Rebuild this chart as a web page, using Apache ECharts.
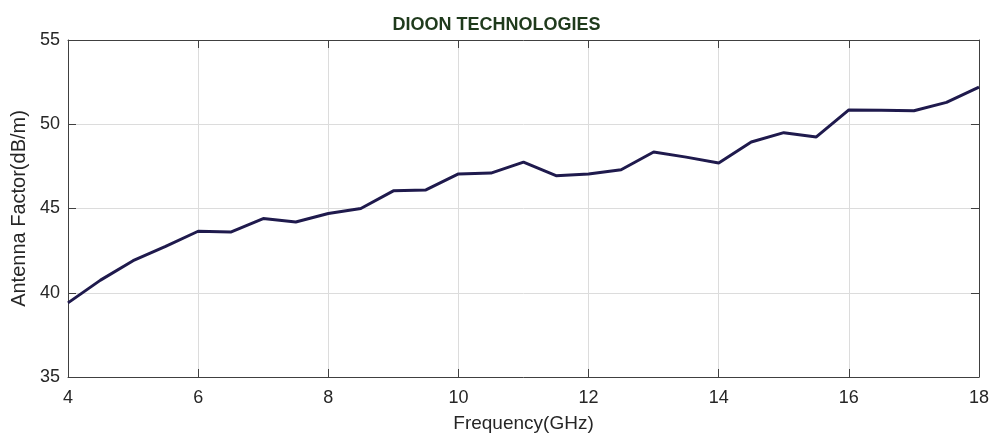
<!DOCTYPE html>
<html><head><meta charset="utf-8">
<script src="https://cdn.jsdelivr.net/npm/echarts@6/dist/echarts.min.js"></script>
<style>html,body{margin:0;padding:0;background:#fff}#c{width:993px;height:441px}</style>
</head><body><div id="c"></div>
<script>
var freq = [4,4.5,5,5.5,6,6.5,7,7.5,8,8.5,9,9.5,10,10.5,11,11.5,12,12.5,13,13.5,14,14.5,15,15.5,16,16.5,17,17.5,18];
var af = [39.4,40.75,41.9,42.75,43.65,43.6,44.4,44.2,44.7,45.0,46.05,46.1,47.05,47.1,47.75,46.95,47.05,47.3,48.35,48.05,47.7,48.95,49.5,49.25,50.85,50.83,50.8,51.3,52.2];
var titleText = 'DIOON TECHNOLOGIES';
var xName = 'Frequency(GHz)';
var yName = 'Antenna Factor(dB/m)';
var font = 'Liberation Sans, Arial, sans-serif';
var frame = '#404040';
var chart = echarts.init(document.getElementById('c'));
chart.setOption({
  animation:false,
  title:{text:titleText,left:'center',top:11,textStyle:{fontFamily:font,fontSize:18,fontWeight:'bold',color:'#1f3a1c'}},
  grid:{left:68,right:14,top:40,bottom:64},
  xAxis:[{type:'value',min:4,max:18,interval:2,position:'bottom',
    name:xName,nameLocation:'middle',nameGap:37,nameTextStyle:{fontFamily:font,fontSize:19,color:'#262626'},
    axisLine:{show:true,lineStyle:{color:frame,width:1}},
    axisTick:{show:true,inside:true,length:8,lineStyle:{color:frame}},
    axisLabel:{fontFamily:font,fontSize:18,color:'#262626',margin:12},
    splitLine:{show:true,lineStyle:{color:'#dcdcdc',width:1}}},
   {type:'value',min:4,max:18,interval:2,position:'top',
    axisLine:{show:true,lineStyle:{color:frame,width:1}},
    axisTick:{show:true,inside:true,length:8,lineStyle:{color:frame}},
    axisLabel:{show:false},splitLine:{show:false}}],
  yAxis:[{type:'value',min:35,max:55,interval:5,position:'left',
    name:yName,nameLocation:'middle',nameGap:36,nameTextStyle:{fontFamily:font,fontSize:20,color:'#262626'},
    axisLine:{show:true,lineStyle:{color:frame,width:1}},
    axisTick:{show:true,inside:true,length:8,lineStyle:{color:frame}},
    axisLabel:{fontFamily:font,fontSize:18,color:'#262626',margin:8},
    splitLine:{show:true,lineStyle:{color:'#dcdcdc',width:1}}},
   {type:'value',min:35,max:55,interval:5,position:'right',
    axisLine:{show:true,lineStyle:{color:frame,width:1}},
    axisTick:{show:true,inside:true,length:8,lineStyle:{color:frame}},
    axisLabel:{show:false},splitLine:{show:false}}],
  series:[{type:'line',data:freq.map(function(f,i){return [f,af[i]];}),
    showSymbol:false,symbol:'none',lineStyle:{color:'#1f1a4d',width:3},z:5}]
});
</script></body></html>
